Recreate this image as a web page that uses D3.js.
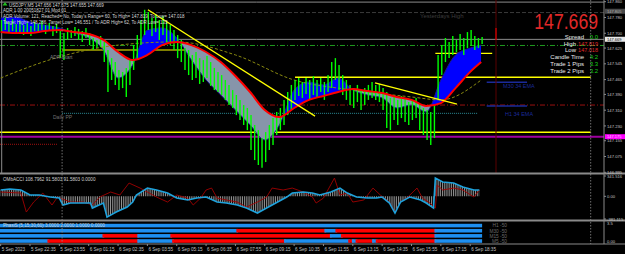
<!DOCTYPE html>
<html>
<head>
<meta charset="utf-8">
<style>
  html, body { margin: 0; padding: 0; background: #000; overflow: hidden; }
  svg { display: block; }
  text { font-family: "Liberation Sans", Arial, sans-serif; }
</style>
</head>
<body>
<div id="chart"></div>
<script src="https://cdn.jsdelivr.net/npm/d3@7"></script>
<script>
// ---- data (USDJPY M5, each price bar = 2 x M5) ----
const barHigh = [147.767,147.777,147.757,147.772,147.747,147.762,147.742,147.752,147.737,147.757,
  147.747,147.762,147.742,147.752,147.737,147.747,147.716,147.701,147.727,147.716,
  147.732,147.722,147.711,147.727,147.701,147.676,147.666,147.686,147.656,147.615,
  147.574,147.554,147.514,147.504,147.524,147.564,147.640,147.691,147.767,147.819,
  147.808,147.777,147.793,147.767,147.787,147.757,147.742,147.716,147.691,147.666,
  147.625,147.615,147.590,147.605,147.574,147.564,147.585,147.554,147.524,147.504,
  147.488,147.463,147.438,147.412,147.387,147.362,147.336,147.321,147.285,147.235,
  147.209,147.169,147.199,147.235,147.270,147.301,147.321,147.362,147.402,147.438,
  147.463,147.473,147.453,147.473,147.463,147.483,147.463,147.473,147.453,147.488,
  147.554,147.574,147.539,147.488,147.463,147.438,147.422,147.438,147.412,147.422,
  147.438,147.453,147.438,147.443,147.422,147.402,147.372,147.387,147.362,147.382,
  147.372,147.351,147.362,147.372,147.341,147.321,147.311,147.301,147.336,147.590,
  147.640,147.676,147.656,147.686,147.666,147.696,147.676,147.706,147.716,147.686,
  147.676,147.681];
const barLow = [147.706,147.716,147.701,147.711,147.696,147.701,147.691,147.706,147.686,147.711,
  147.701,147.716,147.696,147.711,147.686,147.701,147.574,147.564,147.666,147.676,
  147.686,147.666,147.656,147.676,147.640,147.615,147.625,147.630,147.554,147.402,
  147.463,147.438,147.412,147.422,147.377,147.438,147.514,147.564,147.640,147.691,
  147.716,147.686,147.706,147.666,147.691,147.656,147.640,147.615,147.574,147.554,
  147.514,147.488,147.463,147.473,147.443,147.453,147.473,147.433,147.412,147.402,
  147.387,147.362,147.336,147.321,147.285,147.260,147.235,147.209,147.108,147.057,
  147.032,147.018,147.047,147.108,147.133,147.184,147.209,147.235,147.285,147.311,
  147.362,147.382,147.372,147.392,147.362,147.387,147.372,147.402,147.362,147.402,
  147.422,147.463,147.412,147.387,147.362,147.336,147.321,147.351,147.311,147.336,
  147.362,147.372,147.362,147.351,147.311,147.220,147.209,147.260,147.235,147.270,
  147.250,147.235,147.260,147.270,147.209,147.184,147.159,147.133,147.169,147.362,
  147.488,147.554,147.574,147.590,147.605,147.615,147.590,147.625,147.635,147.615,
  147.625,147.645];

// moving averages, sampled every 8 M5 bars
const maIdx = [0,8,16,24,32,40,48,56,64,72,80,88,96,104,112,120,128,136,144,152,160,168,176,184,192,200,208,216,224,232,240,248,256,262];
const slowMA = [147.706,147.701,147.701,147.711,147.716,147.706,147.696,147.666,147.605,147.564,147.590,147.640,147.656,147.640,147.605,147.554,147.483,147.402,147.311,147.275,147.321,147.362,147.382,147.402,147.417,147.407,147.397,147.377,147.362,147.331,147.346,147.422,147.504,147.554];
const fastMA = [147.777,147.782,147.757,147.742,147.727,147.701,147.676,147.615,147.473,147.539,147.716,147.727,147.676,147.564,147.463,147.387,147.311,147.235,147.159,147.235,147.412,147.453,147.438,147.473,147.412,147.387,147.372,147.321,147.336,147.301,147.463,147.590,147.625,147.640];
const longIdx = [0,32,64,96,128,160,192,224,240,262];
const longMA = [147.473,147.580,147.640,147.656,147.590,147.463,147.412,147.377,147.362,147.463];

// CCI sub window
const cciIdx = [0,5,11,16,21,27,32,34,38,43,49,50,56,58,63,69,72,74,80,85,91,96,102,107,112,118,123,129,134,140,145,151,156,159,165,170,174,180,185,189,194,200,205,208,212,215,218,223,229,232,236,237,241,247,252,258,261];
const cciMain = [106,123,106,22,22,-12,-29,-146,-113,-113,-113,-197,-113,-350,-264,-180,-96,22,139,106,55,-29,-62,-29,-12,-96,-113,-146,-197,-281,-197,-96,-12,55,72,55,22,72,139,55,-12,-29,-29,-12,-113,-281,-96,-12,-62,-113,-197,307,240,223,156,106,106];
const cciRedIdx = [0,11,14,18,23,28,31,38,45,50,54,60,65,70,76,80,85,91,96,102,105,109,112,115,118,123,129,134,140,145,148,154,159,165,170,172,176,182,185,189,192,198,203,207,212,215,218,222,227,230,234,237,238,241,247,252,258,261];
const cciRed = [72,55,-264,-96,55,-146,-12,-96,-96,-146,-12,72,22,223,139,72,-12,-96,22,-29,-146,-29,106,139,-29,-62,-96,-180,-96,-12,139,106,139,72,-12,-113,-29,307,22,55,-96,-62,139,22,-96,-264,-96,-12,139,-29,-113,-197,190,106,139,106,-12,106];

// phase sub window: [fromBar, toBar, direction]
const phaseNames = ["H1 -50","M30 -50","M15 -50","M5 -50"];
const phaseLevels = [3,2,1,0];
const phaseH1 = [[0,262,1]];
const phaseM30 = [[0,129,1],[129,177,-1],[177,183,1],[183,237,-1],[237,262,1]];
const phaseM15 = [[0,56,1],[56,75,-1],[75,93,1],[93,180,-1],[180,186,1],[186,237,-1],[237,262,1]];
const phaseM5 = [[0,26,1],[26,75,-1],[75,94,1],[94,155,-1],[155,190,1],[190,192,-1],[192,194,1],[194,203,-1],[203,205,1],[205,237,-1],[237,262,1]];

// levels / objects
const topLevel = 147.858, yesterdayHigh = 147.805, bid = 147.669, adrLine = 147.638;
const resistance = 147.477, support = 147.198, magentaLevel = 147.175;
const redDashLevel = 147.336, dailyPP = 147.294, redDotLevel = 147.137;
const yellowA = 147.615, yellowB = 147.598, emaM30 = 147.451, emaH1 = 147.331;
const trend1 = [[80.3,147.819],[171.4,147.280]];
const trend2 = [[204.1,147.448],[248.8,147.341]];

const priceTicks = [147.860,147.780,147.700,147.625,147.545,147.465,147.390,147.310,147.230,147.155,147.075,146.995];
const timeLabels = ["5 Sep 2023","5 Sep 22:35","5 Sep 23:55","6 Sep 01:15","6 Sep 02:35","6 Sep 03:55","6 Sep 05:15","6 Sep 06:35","6 Sep 07:55","6 Sep 09:15","6 Sep 10:35","6 Sep 11:55","6 Sep 13:15","6 Sep 14:35","6 Sep 15:55","6 Sep 17:15","6 Sep 18:35"];
const headerLines = ["USDJPY,M5  147.656 147.675 147.655 147.669",
  "ADR 1.00 20051827 01 Mod 01",
  "ADR Volume: 121, Reached= No, Today's Range= 60, To High= 147.819, To Low= 147.018",
  "Target High= 148.286, Target Low= 146.551 / To ADR High= 62, To ADR Low= 133"];
const infoLabels = ["Spread","High","Low","Candle Time","Trade 1 Pips","Trade 2 Pips"];
const infoValues = ["0.0","147.819","147.018","4:2","3.3","3.2"];

// ---- layout ----
const W = 625, H = 254, plotR = 604;
const x = d3.scaleLinear().domain([0, 262]).range([0.65, 481.2]);
const y = d3.scaleLinear().domain([146.995, 147.860]).range([172.3, 1.7]);
const yc = d3.scaleLinear().domain([-381.115, 341.516]).range([219, 176]);
const yp = d3.scaleLinear().domain([0, 3.25]).range([241, 224.3]);

const svg = d3.select("#chart").append("svg").attr("width", W).attr("height", H);
svg.append("rect").attr("width", W).attr("height", H).attr("fill", "#000");
const defs = svg.append("defs");
defs.append("clipPath").attr("id", "mainClip").append("rect").attr("x", 0).attr("y", 0).attr("width", plotR).attr("height", 173);

const slowLine = d3.line().x((d, i) => x(maIdx[i])).y(d => y(d)).curve(d3.curveMonotoneX);
const fastLine = d3.line().x((d, i) => x(maIdx[i])).y(d => y(d)).curve(d3.curveMonotoneX);
// clip regions above / below slow MA for the two fill colours
defs.append("clipPath").attr("id", "aboveSlow").append("path")
  .attr("d", d3.area().x((d, i) => x(maIdx[i])).y0(0).y1(d => y(d)).curve(d3.curveMonotoneX)(slowMA));
defs.append("clipPath").attr("id", "belowSlow").append("path")
  .attr("d", d3.area().x((d, i) => x(maIdx[i])).y0(175).y1(d => y(d)).curve(d3.curveMonotoneX)(slowMA));

const main = svg.append("g").attr("clip-path", "url(#mainClip)");

function hline(g, price, x0, x1, color, width, dash) {
  g.append("line").attr("x1", x0).attr("x2", x1).attr("y1", y(price)).attr("y2", y(price))
    .attr("stroke", color).attr("stroke-width", width).attr("stroke-dasharray", dash || null);
}

// horizontal levels
hline(main, topLevel, 0, plotR, "#8c8c8c", 1);
hline(main, yesterdayHigh, 0, plotR, "#3a3a3a", 1, "4,2");
hline(main, bid, 0, plotR, "#8c8c8c", 1);
hline(main, adrLine, 0, plotR, "#1f9a1f", 1, "5,2,1,2");
hline(main, redDashLevel, 0, plotR, "#9a1010", 1, "5,2,1,2");
hline(main, dailyPP, x(33.5), x(260.3), "#2a8a96", 1, "1,1");
hline(main, redDotLevel, 0, 58, "#a01010", 1, "1,1");
hline(main, resistance, x(160.5), 590.7, "#ffff00", 1.3);
hline(main, support, 0, 590.7, "#ffff00", 1.3);
hline(main, magentaLevel, 0, plotR, "#a000a0", 2);
hline(main, yellowA, x(33.5), x(102), "#ffff00", 1.2);
hline(main, yellowB, x(237), x(268), "#ffff00", 1.2);
hline(main, emaM30, x(265), x(287), "#1a2a9a", 1.5);
hline(main, emaH1, x(265), x(287), "#1a2a9a", 1.5);

// vertical separators
main.append("line").attr("x1", 1.7).attr("x2", 1.7).attr("y1", 0).attr("y2", 173).attr("stroke", "#8c8c8c").attr("stroke-width", 1);
main.append("line").attr("x1", 496).attr("x2", 496).attr("y1", 0).attr("y2", 173).attr("stroke", "#5a0000").attr("stroke-width", 1);
main.append("line").attr("x1", 496).attr("x2", 496).attr("y1", 28).attr("y2", 40).attr("stroke", "#ff0000").attr("stroke-width", 1);

// MA fills
const between = d3.area().x((d, i) => x(maIdx[i])).y0((d, i) => y(slowMA[i])).y1(d => y(d)).curve(d3.curveMonotoneX);
main.append("path").attr("d", between(fastMA)).attr("fill", "#0000ff").attr("clip-path", "url(#aboveSlow)");
main.append("path").attr("d", between(fastMA)).attr("fill", "#8795aa").attr("clip-path", "url(#belowSlow)");
main.append("path").attr("d", fastLine(fastMA)).attr("fill", "none").attr("stroke", "#1a1a8c").attr("stroke-width", 1);

// long MA
main.append("path")
  .attr("d", d3.line().x((d, i) => x(longIdx[i])).y(d => y(d)).curve(d3.curveMonotoneX)(longMA))
  .attr("fill", "none").attr("stroke", "#8a8a10").attr("stroke-width", 1).attr("stroke-dasharray", "3,2");

// price bars
main.append("g").selectAll("line").data(barHigh).join("line")
  .attr("x1", (d, k) => x(2 * k + 0.5)).attr("x2", (d, k) => x(2 * k + 0.5))
  .attr("y1", d => y(d)).attr("y2", (d, k) => y(barLow[k]))
  .attr("stroke", "#00ff00").attr("stroke-width", 1.4);

main.append("path").attr("d", slowLine(slowMA)).attr("fill", "none").attr("stroke", "#ff0000").attr("stroke-width", 2);

// trendlines
[trend1, trend2].forEach(t => {
  main.append("line").attr("x1", x(t[0][0])).attr("y1", y(t[0][1])).attr("x2", x(t[1][0])).attr("y2", y(t[1][1]))
    .attr("stroke", "#ffff00").attr("stroke-width", 1.3);
});

// texts on main chart
main.selectAll("text.hdr").data(headerLines).join("text").attr("class", "hdr")
  .attr("x", (d, i) => i === 0 ? 9 : 3).attr("y", (d, i) => [6.5, 12.2, 17.6, 24][i])
  .attr("font-size", 4.5).attr("fill", "#d8d8d8").text(d => d);
main.append("path").attr("d", "M2.5,5.5 L5,2 L7.5,5.5 Z").attr("fill", "#20c020");
main.append("text").attr("x", 420).attr("y", 18).attr("font-size", 6).attr("fill", "#3c3c3c").text("Yesterdays High");
main.append("text").attr("x", 50).attr("y", 59).attr("font-size", 5).attr("fill", "#808080").text("ADR Start");
main.append("text").attr("x", 53).attr("y", 118.5).attr("font-size", 5).attr("fill", "#707070").text("Daily PP");
main.append("text").attr("x", 503).attr("y", 88).attr("font-size", 5.5).attr("fill", "#1a2a9a").text("M30 34 EMA");
main.append("text").attr("x", 505).attr("y", 116).attr("font-size", 5.5).attr("fill", "#1a2a9a").text("H1 34 EMA");
// big bid price, horizontally condensed like the terminal font
main.append("text").attr("transform", "translate(598,29) scale(0.82,1)").attr("text-anchor", "end")
  .attr("font-size", 21.5).attr("fill", "#e02828").text("147.669");
const infoY = [39, 45.6, 52.2, 59, 66, 73];
infoLabels.forEach((lab, i) => {
  const small = i === 1 || i === 2;
  main.append("text").attr("x", small ? 576 : 584).attr("y", infoY[i]).attr("text-anchor", "end")
    .attr("font-size", 6).attr("fill", "#e8e8e8").text(lab);
  main.append("text").attr("x", 598).attr("y", infoY[i]).attr("text-anchor", "end")
    .attr("font-size", small ? 5.5 : 6).attr("fill", small ? "#e02828" : "#18d018").text(infoValues[i]);
});

// ---- CCI window ----
const cci = svg.append("g");
const pat = defs.append("pattern").attr("id", "histo").attr("patternUnits", "userSpaceOnUse")
  .attr("width", 1.834).attr("height", 10);
pat.append("rect").attr("x", 0).attr("y", 0).attr("width", 0.7).attr("height", 10).attr("fill", "#c0c0c0");
cci.append("path")
  .attr("d", d3.area().x((d, i) => x(cciIdx[i])).y0(yc(0)).y1(d => yc(d))(cciMain))
  .attr("fill", "url(#histo)");
cci.append("path")
  .attr("d", d3.line().x((d, i) => x(cciRedIdx[i])).y(d => yc(d))(cciRed))
  .attr("fill", "none").attr("stroke", "#a00000").attr("stroke-width", 0.9);
cci.append("path")
  .attr("d", d3.line().x((d, i) => x(cciIdx[i])).y(d => yc(d))(cciMain))
  .attr("fill", "none").attr("stroke", "#1ea2dc").attr("stroke-width", 1.6);
cci.append("text").attr("x", 3).attr("y", 180.5).attr("font-size", 4.6).attr("fill", "#d0d0d0")
  .text("OMbACCI 108.7962 91.5803 91.5803 0.0000");

// ---- phase window ----
const phase = svg.append("g");
[phaseH1, phaseM30, phaseM15, phaseM5].forEach((segs, r) => {
  phase.selectAll(null).data(segs).join("rect")
    .attr("x", d => x(d[0]) - 0.9).attr("width", d => x(d[1]) - x(d[0]) + 1.8)
    .attr("y", yp(phaseLevels[r]) - 1.8).attr("height", 3.6)
    .attr("fill", d => d[2] > 0 ? "#1e8ff0" : "#ff0000");
  phase.append("text").attr("x", 507).attr("y", yp(phaseLevels[r]) + 1.8).attr("text-anchor", "end")
    .attr("font-size", 4.8).attr("fill", "#6a6a6a").text(phaseNames[r]);
});
phase.append("text").attr("x", 3).attr("y", 227.3).attr("font-size", 4.6).attr("fill", "#d0d0d0")
  .text("PhasiS (5,15,30,60) 3.0000 2.0000 1.0000 0.0000");

// ---- dotted verticals through all windows ----
[33.5, 321.7].forEach(b => {
  svg.append("line").attr("x1", x(b)).attr("x2", x(b)).attr("y1", 0).attr("y2", 244)
    .attr("stroke", "#8c8c8c").attr("stroke-width", 0.8).attr("stroke-dasharray", "1.5,1.5");
});

// ---- frames ----
[173.5, 220.5].forEach(v => {
  svg.append("rect").attr("x", 0).attr("y", v - 1).attr("width", W).attr("height", 2).attr("fill", "#8a8a8a");
});
svg.append("line").attr("x1", 0).attr("x2", W).attr("y1", 244).attr("y2", 244).attr("stroke", "#8a8a8a").attr("stroke-width", 1);
svg.append("line").attr("x1", plotR).attr("x2", plotR).attr("y1", 0).attr("y2", 244).attr("stroke", "#8a8a8a").attr("stroke-width", 1);

// ---- price axis ----
const ax = svg.append("g").attr("font-size", 4.2).attr("fill", "#c0c0c0");
priceTicks.forEach(p => {
  ax.append("line").attr("x1", plotR).attr("x2", plotR + 2).attr("y1", y(p)).attr("y2", y(p)).attr("stroke", "#8a8a8a");
  ax.append("text").attr("x", 607).attr("y", y(p) + 1.6).text(d3.format(".3f")(p));
});
function axisBox(p, bg, fg, shift) {
  ax.append("rect").attr("x", plotR + 1).attr("y", y(p) - 2.6 + shift).attr("width", 20).attr("height", 5).attr("fill", bg);
  ax.append("text").attr("x", 607).attr("y", y(p) + 1.3 + shift).attr("font-size", 4).attr("fill", fg).text(d3.format(".3f")(p));
}
axisBox(yesterdayHigh, "#4a4a4a", "#b0b0b0", -1.2);
axisBox(bid, "#e8e8e8", "#000000", 0);
axisBox(magentaLevel, "#ff00ff", "#ffd0ff", 0);
[[341.516, "341.516"], [0, "0.00"], [-381.115, "-381.115"]].forEach(([v, t]) => {
  ax.append("line").attr("x1", plotR).attr("x2", plotR + 2).attr("y1", yc(v)).attr("y2", yc(v)).attr("stroke", "#8a8a8a");
  ax.append("text").attr("x", 607).attr("y", yc(v) + 1.5).text(t);
});
[[3.5, "3.5"], [0, "0.00"]].forEach(([v, t]) => {
  ax.append("text").attr("x", 607).attr("y", yp(v) + 1.5).text(t);
});

// ---- time axis ----
const tx = svg.append("g").attr("font-size", 4.6).attr("fill", "#c0c0c0");
timeLabels.forEach((t, i) => {
  const xx = x(i * 16);
  tx.append("line").attr("x1", xx).attr("x2", xx).attr("y1", 244).attr("y2", 246).attr("stroke", "#8a8a8a");
  tx.append("text").attr("x", xx + 1).attr("y", 251).text(t);
});
</script>
</body>
</html>
